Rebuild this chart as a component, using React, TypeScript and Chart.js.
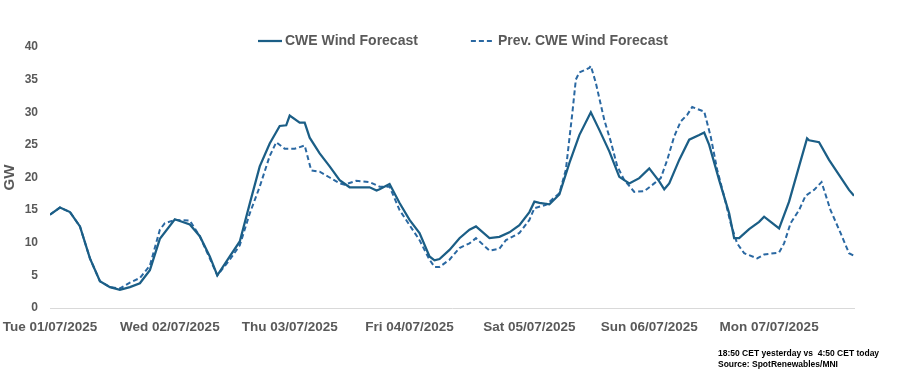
import React, { useEffect, useRef } from "react";
import { Chart, registerables } from "chart.js";

Chart.register(...registerables);

const dayLabels = [
  "Tue 01/07/2025",
  "Wed 02/07/2025",
  "Thu 03/07/2025",
  "Fri 04/07/2025",
  "Sat 05/07/2025",
  "Sun 06/07/2025",
  "Mon 07/07/2025",
];

const seriesNames = ["CWE Wind Forecast", "Prev. CWE Wind Forecast"];

// hours since Tue 01/07/2025 00:00
const curHours = [
  0, 2, 4, 6, 8, 10, 12, 14, 16, 18, 20, 22, 25, 28, 30, 32, 33.5, 36, 38, 40,
  42, 44, 46, 47.3, 48, 50, 51, 52, 54, 56, 58, 60, 62, 64, 65.4, 66, 68, 70, 72, 74,
  76, 77, 78, 80, 82, 84, 85.3, 88, 90, 92, 94, 96, 97, 98, 100, 102, 104, 106, 108.3, 110,
  112, 114, 116, 118, 120, 122, 123, 124, 126, 128, 130, 131, 132, 134, 136, 137, 138, 140, 142, 143,
  144, 146, 148, 150, 151.6, 152, 154, 156, 158, 160, 161,
];
const curValues = [
  14.3, 15.4, 14.7, 12.5, 7.6, 4.1, 3.2, 2.8, 3.2, 3.8, 5.8, 10.6, 13.6, 12.8, 11.0, 7.9, 5.0, 7.9, 10.2, 16.0,
  21.7, 25.2, 27.9, 28.0, 29.5, 28.4, 28.4, 26.1, 23.7, 21.7, 19.6, 18.5, 18.5, 18.5, 18.0, 18.2, 19.0, 16.1, 13.5, 11.5,
  7.9, 7.3, 7.5, 8.9, 10.7, 12.0, 12.5, 10.7, 10.9, 11.6, 12.7, 14.7, 16.3, 16.1, 15.9, 17.4, 22.2, 26.5, 30.0, 27.3,
  24.0, 20.1, 19.1, 19.9, 21.4, 19.4, 18.2, 19.1, 22.7, 25.8, 26.5, 26.9, 25.0, 19.6, 14.5, 10.7, 10.7, 12.1, 13.2, 14.0,
  13.4, 12.2, 16.3, 21.7, 26.0, 25.7, 25.4, 22.7, 20.4, 18.1, 17.2,
];

const prevHours = [
  0, 2, 4, 6, 8, 10, 12, 14, 16, 18, 20, 22, 23, 25, 28, 30, 32, 33.5, 36, 38,
  40, 42, 44, 45.3, 47, 49, 51, 52.3, 54, 56, 58, 59, 61.3, 64, 66, 68, 70, 72, 74, 76,
  77, 78, 80, 82, 84, 85.3, 88, 90, 91.3, 94, 96, 97, 99.3, 102, 103.3, 104.6, 105.3, 106, 108, 108.3,
  109.3, 111, 112.3, 113.6, 115, 117, 119, 121, 122.3, 123.6, 125, 126.3, 127.6, 128.6, 131, 132.3, 133.6, 135, 136.3, 137.6,
  139, 141.6, 143, 146, 147, 148.3, 150, 151.3, 153, 154.5, 156.3, 158.3, 160, 161,
];
const prevValues = [
  14.3, 15.4, 14.7, 12.5, 7.6, 4.1, 3.2, 3.0, 3.9, 4.6, 6.5, 12.0, 13.0, 13.5, 13.4, 11.0, 7.6, 5.0, 7.4, 9.6,
  14.5, 18.6, 23.3, 25.4, 24.4, 24.4, 24.9, 21.1, 20.9, 20.0, 19.1, 18.9, 19.5, 19.3, 18.6, 18.6, 15.0, 12.7, 10.4, 7.4,
  6.3, 6.3, 7.4, 9.2, 9.9, 10.7, 8.8, 9.1, 10.4, 11.5, 13.5, 15.3, 15.8, 17.6, 21.2, 29.9, 35.0, 36.1, 36.8, 37.1,
  34.5, 28.8, 25.5, 21.7, 19.6, 17.8, 17.9, 19.1, 19.9, 22.7, 26.3, 28.6, 29.6, 30.8, 30.1, 26.3, 21.2, 17.1, 13.0, 9.9,
  8.4, 7.6, 8.2, 8.5, 9.9, 13.0, 15.0, 17.2, 18.1, 19.3, 15.0, 11.5, 8.4, 8.0,
];

const footnotes = ["18:50 CET yesterday vs  4:50 CET today", "Source: SpotRenewables/MNI"];

const FONT = '"Liberation Sans", Arial, sans-serif';
const GREY = "#595959";

const legendPlugin = {
  id: "customLegend",
  afterDraw(chart: any) {
    const ctx = chart.ctx;
    ctx.save();
    ctx.font = `bold 14px ${FONT}`;
    ctx.textBaseline = "middle";
    let x = 258;
    const y = 41;
    chart.data.datasets.forEach((ds: any) => {
      ctx.beginPath();
      ctx.setLineDash(ds.borderDash || []);
      ctx.strokeStyle = ds.borderColor;
      ctx.lineWidth = ds.borderWidth;
      ctx.moveTo(x, y);
      ctx.lineTo(x + 24, y);
      ctx.stroke();
      ctx.setLineDash([]);
      ctx.fillStyle = GREY;
      ctx.textAlign = "left";
      ctx.fillText(ds.label, x + 27, y);
      x += 27 + ctx.measureText(ds.label).width + 53;
    });
    ctx.restore();
  },
};

export default function App() {
  const canvasRef = useRef<HTMLCanvasElement | null>(null);

  useEffect(() => {
    if (!canvasRef.current) return;
    Chart.defaults.font.family = FONT;
    const chart = new Chart(canvasRef.current, {
      type: "line",
      data: {
        datasets: [
          {
            label: seriesNames[0],
            data: curHours.map((h, i) => ({ x: h, y: curValues[i] })),
            borderColor: "#1B5E86",
            backgroundColor: "#1B5E86",
            borderWidth: 2.25,
            pointRadius: 0,
            tension: 0,
          },
          {
            label: seriesNames[1],
            data: prevHours.map((h, i) => ({ x: h, y: prevValues[i] })),
            borderColor: "#2A68A2",
            backgroundColor: "#2A68A2",
            borderWidth: 2,
            borderDash: [5, 3],
            pointRadius: 0,
            tension: 0,
          },
        ],
      },
      options: {
        responsive: false,
        animation: false,
        devicePixelRatio: 1,
        layout: { padding: { left: 0, right: 54, top: 47, bottom: 0 } },
        plugins: {
          legend: { display: false },
          tooltip: { enabled: false },
        },
        scales: {
          x: {
            type: "linear",
            min: 0,
            max: 161,
            afterFit: (scale: any) => {
              scale.height = 73;
              scale.paddingLeft = 0;
              scale.paddingRight = 0;
            },
            grid: { display: false, drawTicks: false },
            border: { display: true, color: "#d9d9d9", width: 1 },
            ticks: {
              stepSize: 24,
              autoSkip: false,
              maxRotation: 0,
              includeBounds: false,
              padding: 11,
              color: GREY,
              font: { size: 13.5, weight: "bold" },
              callback: (v: any) => {
                const n = Number(v);
                return n % 24 === 0 ? dayLabels[n / 24] ?? "" : "";
              },
            },
          },
          y: {
            min: 0,
            max: 40,
            afterFit: (scale: any) => {
              scale.width = 50;
            },
            grid: { display: false, drawTicks: false },
            border: { display: false },
            ticks: {
              stepSize: 5,
              padding: 12,
              color: GREY,
              font: { size: 12, weight: "bold" },
            },
            title: {
              display: true,
              text: "GW",
              color: GREY,
              font: { size: 15, weight: "bold" },
              padding: { top: 1, bottom: 0 },
            },
          },
        },
      },
      plugins: [legendPlugin],
    } as any);
    return () => chart.destroy();
  }, []);

  return (
    <div style={{ position: "fixed", left: 0, top: 0, width: 908, height: 381, background: "#fff" }}>
      <canvas ref={canvasRef} width={908} height={381} style={{ display: "block" }} />
      <div
        style={{
          position: "absolute",
          left: 718,
          top: 348,
          fontFamily: FONT,
          fontWeight: "bold",
          fontSize: "8.5px",
          lineHeight: "11px",
          color: "#000",
          whiteSpace: "pre",
        }}
      >
        {footnotes.map((t) => (
          <div key={t}>{t}</div>
        ))}
      </div>
    </div>
  );
}
